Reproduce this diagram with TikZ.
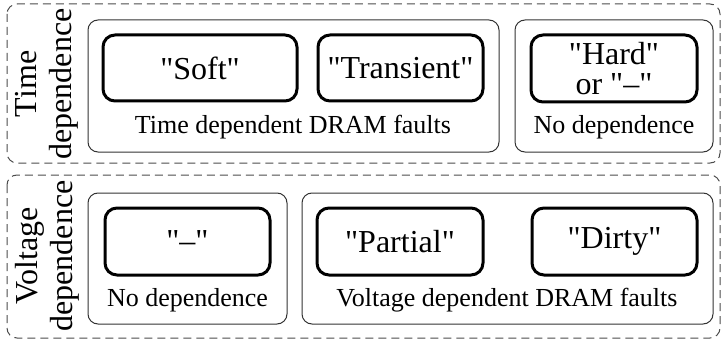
\documentclass[tikz,border=0pt]{standalone}
\usepackage{fontspec}
\setmainfont{Liberation Serif}[Ligatures=TeXOff]

\begin{document}
\begin{tikzpicture}[x=0.5pt,y=-0.5pt,
  group/.style={draw=black!70,line width=0.5pt,dash pattern=on 4pt off 2.5pt,rounded corners=5pt},
  area/.style={draw=black!80,line width=0.5pt,rounded corners=5pt},
  fault/.style={draw,line width=1.5pt,rounded corners=6pt,inner sep=0pt,align=center,
    font=\fontsize{16}{16}\selectfont},
  caption/.style={inner sep=0pt,font=\fontsize{13}{13}\selectfont},
  axis/.style={rotate=90,align=center,inner sep=0pt,font=\fontsize{16}{17.5}\selectfont}]
\useasboundingbox (0,0) rectangle (722,342);
% time dependence
\draw[group] (7,4) rectangle (720,163);
\node[axis] (tlabel) at (47,84) {Time\\dependence};
\draw[area] (88,20) rectangle (499,152);
\draw[area] (515,20) rectangle (713,152);
\node[fault,minimum width=97pt,minimum height=33pt] (soft) at (200,68) {"Soft"};
\node[fault,minimum width=82.5pt,minimum height=33pt] (transient) at (400.5,68) {"Transient"};
\node[fault,minimum width=83pt,minimum height=33.5pt] (hard) at (614,68.5) {"Hard"\\[-1pt]or "–"};
\node[caption] (tdep) at (293,127) {Time dependent DRAM faults};
\node[caption] (tnone) at (614,127) {No dependence};
% voltage dependence
\draw[group] (7,175) rectangle (720,338);
\node[axis] (vlabel) at (47,256) {Voltage\\dependence};
\draw[area] (88,193) rectangle (287,324);
\draw[area] (302,193) rectangle (713,324);
\node[fault,minimum width=82.5pt,minimum height=33.5pt] (none) at (187.5,241.5) {"–"};
\node[fault,minimum width=83pt,minimum height=33.5pt] (partial) at (400,241.5) {"Partial"};
\node[fault,minimum width=82.5pt,minimum height=33.5pt] (dirty) at (614.5,241.5) {"Dirty"};
\node[caption] (vnone) at (187.5,300) {No dependence};
\node[caption] (vdep) at (507,300) {Voltage dependent DRAM faults};
\end{tikzpicture}
\end{document}
